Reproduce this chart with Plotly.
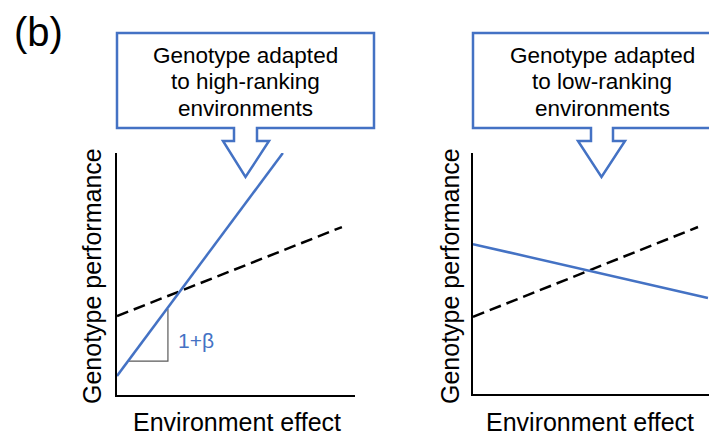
import plotly.graph_objects as go

# page body has an 8px margin: figure fills the rest of the 717x433 window
OFF = 8
W, H = 717 - OFF, 433 - OFF

# ---- data (normalized axis units) ----
left_blue_x = [0.0, 0.697]
left_blue_y = [0.079, 1.0]
left_ref_x = [0.0, 0.945]
left_ref_y = [0.326, 0.694]
slope_x = [0.05, 0.214, 0.214]
slope_y = [0.14, 0.14, 0.355]
right_blue_x = [0.0, 0.979]
right_blue_y = [0.622, 0.398]
right_ref_x = [0.0, 0.9375]
right_ref_y = [0.32, 0.693]

panel_label = "(b)"
callout_lines = [["Genotype adapted", "to high-ranking", "environments"],
                 ["Genotype adapted", "to low-ranking", "environments"]]
x_title = "Environment effect"
y_title = "Genotype performance"
slope_label = "1+β"

BLUE = "#4472C4"
FONT = "Liberation Sans, Arial, sans-serif"


def px(x):
    return (x - OFF) / W


def py(y):
    return 1 - (y - OFF) / H


fig = go.Figure()
fig.add_trace(go.Scatter(x=slope_x, y=slope_y, mode="lines",
                         line=dict(color="#595959", width=1.2),
                         xaxis="x", yaxis="y", hoverinfo="skip"))
fig.add_trace(go.Scatter(x=left_ref_x, y=left_ref_y, mode="lines",
                         line=dict(color="black", width=2.5, dash="12px,6px"),
                         xaxis="x", yaxis="y"))
fig.add_trace(go.Scatter(x=left_blue_x, y=left_blue_y, mode="lines",
                         line=dict(color=BLUE, width=2.5),
                         xaxis="x", yaxis="y"))
fig.add_trace(go.Scatter(x=right_ref_x, y=right_ref_y, mode="lines",
                         line=dict(color="black", width=2.5, dash="12px,6px"),
                         xaxis="x2", yaxis="y2"))
fig.add_trace(go.Scatter(x=right_blue_x, y=right_blue_y, mode="lines",
                         line=dict(color=BLUE, width=2.5),
                         xaxis="x2", yaxis="y2"))

ax_common = dict(range=[0, 1], showgrid=False, zeroline=False, showticklabels=False,
                 ticks="", showline=True, linecolor="black", linewidth=2,
                 mirror=False, fixedrange=True)

fig.update_layout(
    width=W, height=H,
    margin=dict(l=0, r=0, t=0, b=0),
    paper_bgcolor="white", plot_bgcolor="white",
    showlegend=False,
    xaxis=dict(domain=[px(117), px(355)], anchor="y", **ax_common),
    yaxis=dict(domain=[py(395), py(153)], anchor="x", **ax_common),
    xaxis2=dict(domain=[px(473), px(713)], anchor="y2", **ax_common),
    yaxis2=dict(domain=[py(394), py(153)], anchor="x2", **ax_common),
)


def callout_path(x0, x1, y0, y1, s0, s1, h0, h1, hy, tip_x, tip_y):
    pts = [(x0, y0), (x1, y0), (x1, y1), (s1, y1), (s1, hy), (h1, hy),
           (tip_x, tip_y), (h0, hy), (s0, hy), (s0, y1), (x0, y1)]
    return "M " + " L ".join(f"{px(a):.5f},{py(b):.5f}" for a, b in pts) + " Z"


fig.add_shape(type="path", xref="paper", yref="paper",
              path=callout_path(117, 374, 33, 128, 234, 257, 223, 269, 141, 245.5, 177),
              line=dict(color=BLUE, width=2.5), fillcolor="white")
fig.add_shape(type="path", xref="paper", yref="paper",
              path=callout_path(473, 740, 33, 128, 591, 613, 578, 625, 141, 601.5, 177),
              line=dict(color=BLUE, width=2.5), fillcolor="white")

annos = [
    dict(text=panel_label, x=px(38.5), y=py(32), size=40),
    dict(text=x_title, x=px(237), y=py(422), size=25),
    dict(text=x_title, x=px(590), y=py(422), size=25),
    dict(text=y_title, x=px(92), y=py(276), size=25, angle=-90),
    dict(text=y_title, x=px(450), y=py(276), size=25, angle=-90),
]
line_ys = [55, 81.5, 108]
for cx, lines in zip([245.5, 602], callout_lines):
    for ly, t in zip(line_ys, lines):
        annos.append(dict(text=t, x=px(cx), y=py(ly), size=22.5))

for a in annos:
    fig.add_annotation(text=a["text"], x=a["x"], y=a["y"], xref="paper", yref="paper",
                       showarrow=False, xanchor="center", yanchor="middle",
                       textangle=a.get("angle", 0),
                       font=dict(family=FONT, size=a["size"], color="black"))

fig.add_annotation(text=slope_label, x=0.33, y=0.227, xref="x", yref="y",
                   showarrow=False, xanchor="center", yanchor="middle",
                   font=dict(family=FONT, size=21, color=BLUE))

fig.write_html("out.html")
